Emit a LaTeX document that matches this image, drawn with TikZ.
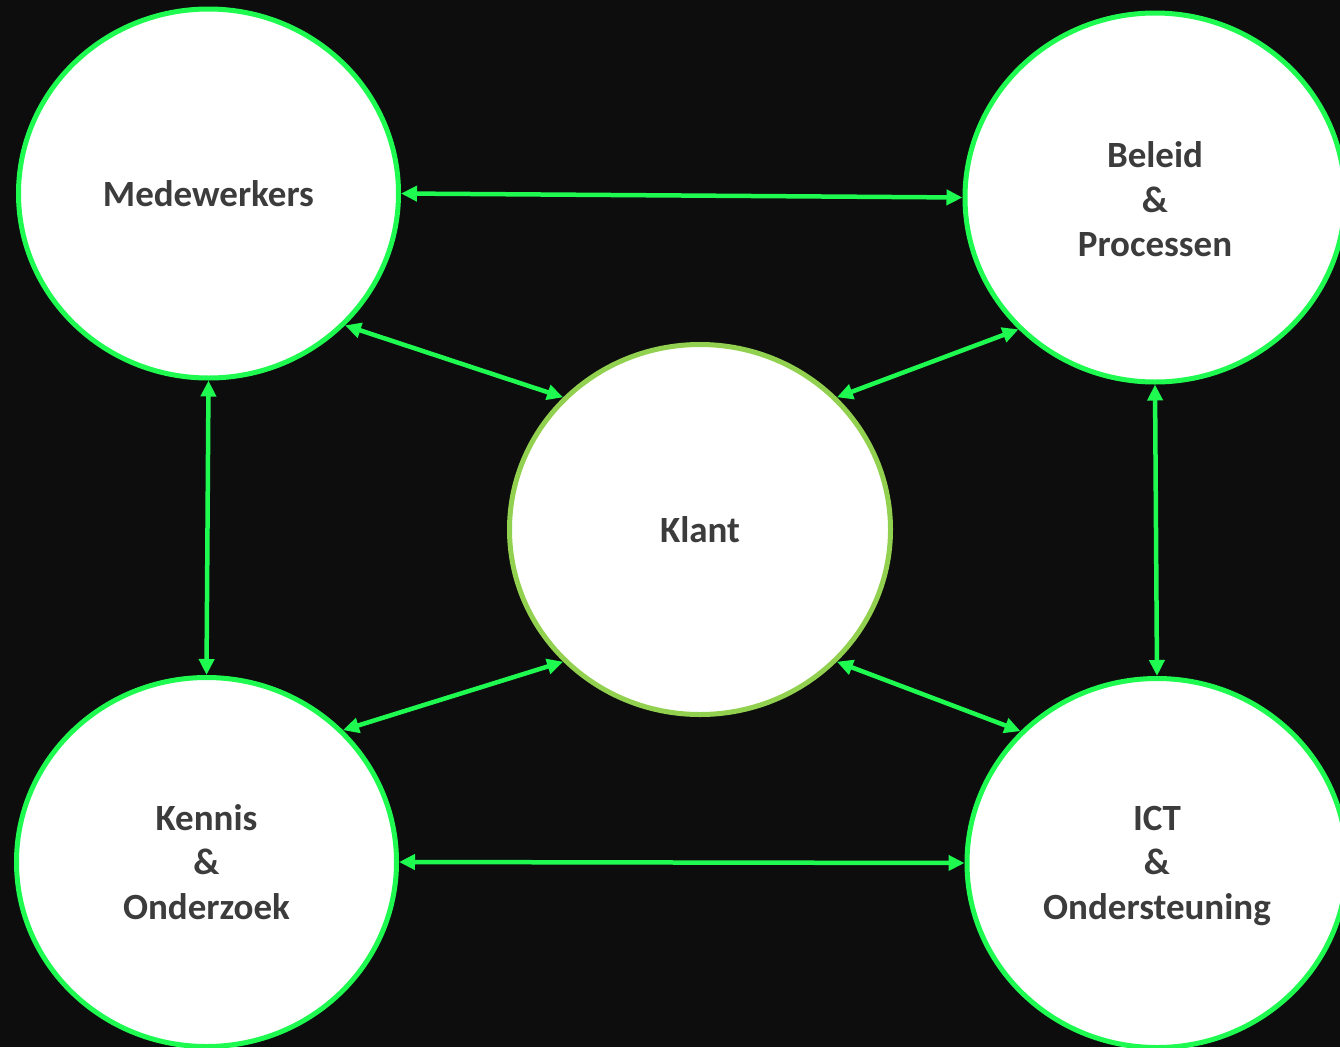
\documentclass[tikz,border=0pt]{standalone}
\usepackage{fontspec}
\setmainfont{Carlito}
\usetikzlibrary{shapes.geometric,arrows.meta}
\definecolor{achter}{HTML}{0D0D0D}
\definecolor{fel}{HTML}{1EFA50}
\definecolor{licht}{HTML}{92D050}
\definecolor{tekst}{HTML}{3C3C3C}
\begin{document}
\begin{tikzpicture}[x=1pt,y=-1pt,
bol/.style={ellipse,fill=white,draw=fel,line width=5pt,inner sep=0pt,
  minimum width=380pt,minimum height=369pt,align=center,text=tekst,
  font=\fontsize{37}{44.5}\selectfont\bfseries},
pijl/.style={fel,line width=4.5pt,{Triangle[length=16pt,width=15pt]}-{Triangle[length=16pt,width=15pt]}}]
\clip (0,0) rectangle (1340,1047);
\fill[achter] (0,0) rectangle (1340,1047);
% vijf bollen
\node[bol] (mede) at (208.5,193.5) {Medewerkers};
\node[bol] (beleid) at (1155,197.5) {\rule{0pt}{43pt}Beleid\\\&\\Processen\strut};
\node[bol,draw=licht,minimum width=381pt,minimum height=370pt] (klant) at (700,529.5) {Klant};
\node[bol] (kennis) at (206.5,862) {\rule{0pt}{39pt}Kennis\\\&\\Onderzoek\strut};
\node[bol] (ict) at (1157,863) {\rule{0pt}{37pt}ICT\\\&\\Ondersteuning\strut};
% verbindingen
\draw[pijl] (mede.east) -- (beleid.west);
\draw[pijl] (kennis.east) -- (ict.west);
\draw[pijl] (mede.south) -- (kennis.north);
\draw[pijl] (beleid.south) -- (ict.north);
\draw[pijl] (mede.-44) -- (klant.136);
\draw[pijl] (beleid.224) -- (klant.44);
\draw[pijl] (kennis.44) -- (klant.224);
\draw[pijl] (ict.136) -- (klant.-44);
\end{tikzpicture}
\end{document}
